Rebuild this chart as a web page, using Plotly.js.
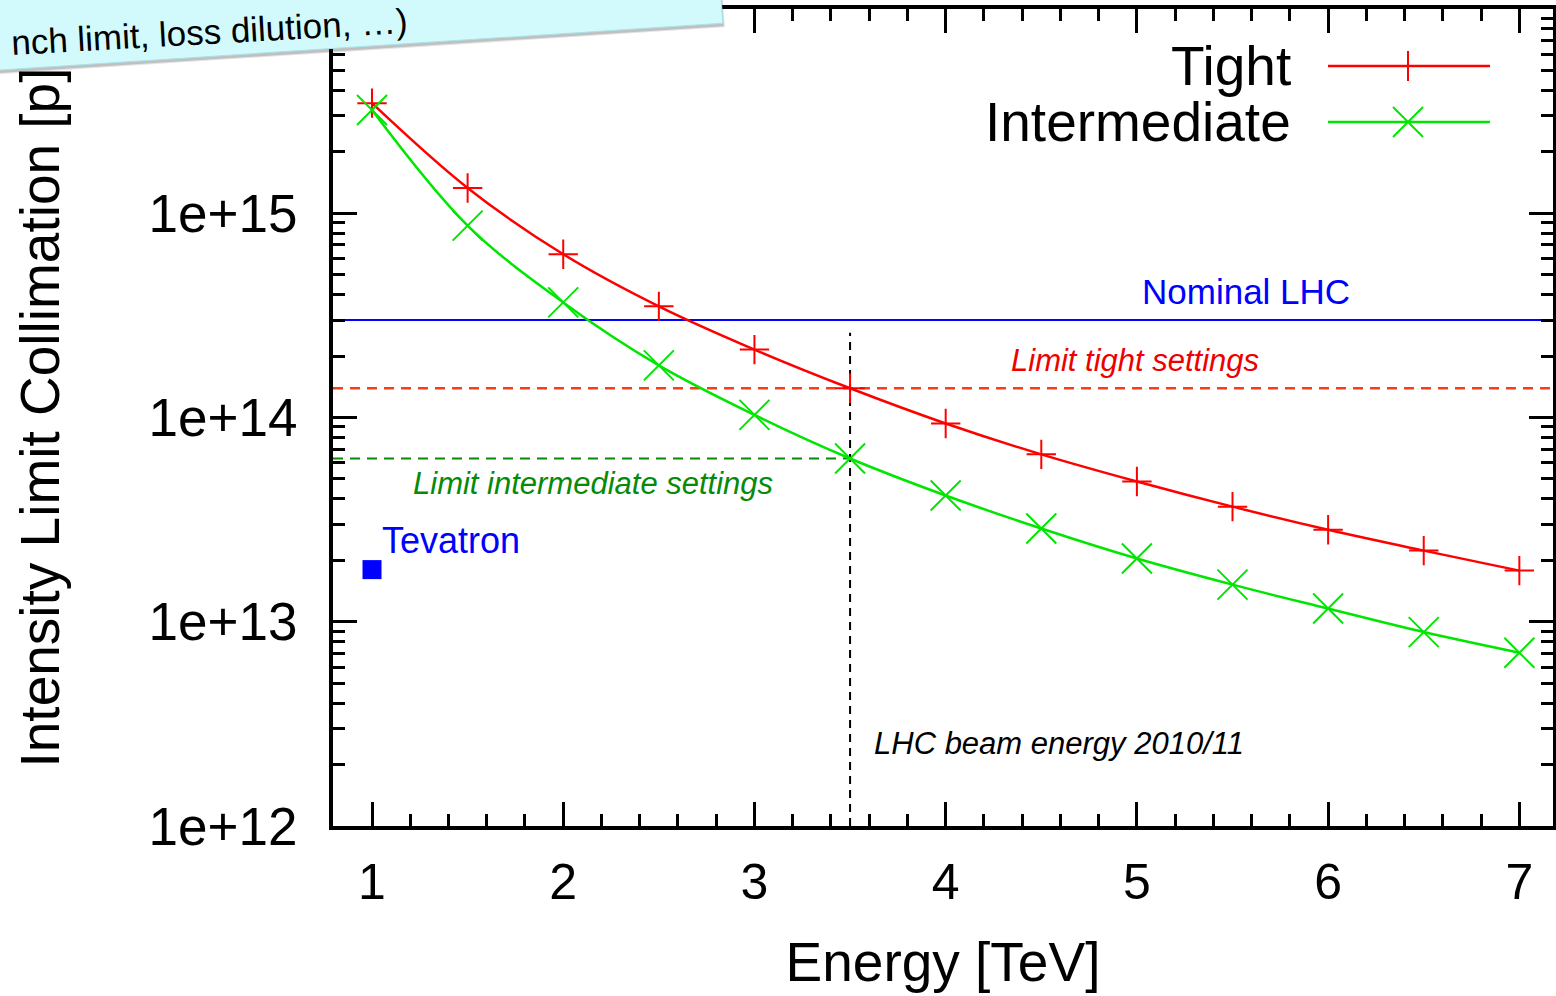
<!DOCTYPE html>
<html>
<head>
<meta charset="utf-8">
<script src="https://cdn.plot.ly/plotly-3.0.1.min.js"></script>
<style>html,body{margin:0;padding:0;background:#fff;}#chart{width:1556px;height:996px;}</style>
</head>
<body>
<div id="chart"></div>
<script>
// ---- data ----
const energy = [1, 1.5, 2, 2.5, 3, 3.5, 4, 4.5, 5, 5.5, 6, 6.5, 7];
const tightLimit = [3.46e15, 1.33e15, 6.3e14, 3.5e14, 2.15e14, 1.39e14, 9.35e13, 6.6e13, 4.86e13, 3.66e13, 2.82e13, 2.23e13, 1.78e13];
const intermediateLimit = [3.2e15, 8.7e14, 3.66e14, 1.8e14, 1.03e14, 6.3e13, 4.15e13, 2.86e13, 2.04e13, 1.52e13, 1.16e13, 8.9e12, 7.05e12];
const nominalLHC = 3.0e14;
const limitTight = 1.39e14;
const limitIntermediate = 6.3e13;
const lhcEnergy2010 = 3.5;
const lhcMarkerTop = 2.6e14;
const tevatronEnergy = [1];
const tevatronIntensity = [1.8e13];
const xTickVals = [1, 2, 3, 4, 5, 6, 7];
const yTickVals = [1e12, 1e13, 1e14, 1e15, 1e16];
const yTickText = ['1e+12', '1e+13', '1e+14', '1e+15', '1e+16'];

const xRange = [0.796, 7.176];
const yRangeLog = [12, 16];
const yMin = Math.pow(10, yRangeLog[0]);

const FONT = 'Liberation Sans, Arial, Helvetica, sans-serif';
const RED = '#ff0000', GREEN = '#00e600', BLUE = '#0000ff';

const yMinor = [];
for (let e = yRangeLog[0]; e < yRangeLog[1]; e++) {
  for (let m = 2; m <= 9; m++) yMinor.push(m * Math.pow(10, e));
}

const traces = [
  {x: xRange, y: [nominalLHC, nominalLHC], mode: 'lines', line: {color: BLUE, width: 2}, hoverinfo: 'skip'},
  {x: xRange, y: [limitTight, limitTight], mode: 'lines', line: {color: '#ff3a1a', width: 2.5, dash: '10px,7px'}, hoverinfo: 'skip'},
  {x: [xRange[0], lhcEnergy2010], y: [limitIntermediate, limitIntermediate], mode: 'lines', line: {color: '#078a07', width: 2, dash: '10px,7px'}, hoverinfo: 'skip'},
  {x: [lhcEnergy2010, lhcEnergy2010], y: [yMin, lhcMarkerTop], mode: 'lines', line: {color: '#000', width: 2, dash: '8px,6px'}, hoverinfo: 'skip'},
  {x: energy, y: tightLimit, name: 'Tight', mode: 'lines+markers',
   line: {color: RED, width: 2.5, shape: 'spline', smoothing: 1},
   marker: {symbol: 'cross-thin', size: 21, color: RED, line: {color: RED, width: 2}}},
  {x: energy, y: intermediateLimit, name: 'Intermediate', mode: 'lines+markers',
   line: {color: GREEN, width: 2.5, shape: 'spline', smoothing: 1},
   marker: {symbol: 'x-thin', size: 30, color: GREEN, line: {color: GREEN, width: 2}}},
  {x: tevatronEnergy, y: tevatronIntensity, name: 'Tevatron', mode: 'markers',
   marker: {symbol: 'square', size: 19, color: BLUE}}
];

// pixel helpers for the paper-referenced decorations (plot area 333..1553 x 9..826)
const px = v => (v - 333) / 1220;
const py = v => (826 - v) / 817;

const NOTE_ANGLE = -3.7;
const noteBox = {xref: 'paper', yref: 'paper', text: ' ', showarrow: false, width: 900, height: 130,
  textangle: NOTE_ANGLE, xanchor: 'center', yanchor: 'middle', borderpad: 0};

const annotations = [
  {xref: 'x', yref: 'y', x: 5.57, y: Math.log10(4.15e14), text: 'Nominal LHC', showarrow: false,
   xanchor: 'center', yanchor: 'middle', font: {family: FONT, size: 35, color: BLUE}},
  {xref: 'x', yref: 'y', x: 4.99, y: 14.279, text: '<i>Limit tight settings</i>', showarrow: false,
   xanchor: 'center', yanchor: 'middle', font: {family: FONT, size: 31, color: '#ee0000'}},
  {xref: 'x', yref: 'y', x: 2.156, y: 13.676, text: '<i>Limit intermediate settings</i>', showarrow: false,
   xanchor: 'center', yanchor: 'middle', font: {family: FONT, size: 31, color: '#078a07'}},
  {xref: 'x', yref: 'y', x: 3.615, y: 12.402, xanchor: 'left', yanchor: 'middle', text: '<i>LHC beam energy 2010/11</i>', showarrow: false,
   font: {family: FONT, size: 31, color: '#000'}},
  {xref: 'x', yref: 'y', x: 1.042, y: 13.397, xanchor: 'left', yanchor: 'middle', text: 'Tevatron', showarrow: false,
   font: {family: FONT, size: 36, color: BLUE}},
  // legend text
  {xref: 'paper', yref: 'paper', x: px(1293), y: py(66), xanchor: 'right', yanchor: 'middle', text: 'Tight', showarrow: false,
   font: {family: FONT, size: 55, color: '#000'}},
  {xref: 'paper', yref: 'paper', x: px(1293), y: py(122), xanchor: 'right', yanchor: 'middle', text: 'Intermediate', showarrow: false,
   font: {family: FONT, size: 55, color: '#000'}},
  // sticky note overlay (shadow, card, text)
  Object.assign({}, noteBox, {x: px(270.5), y: py(-8.5), bgcolor: 'rgba(0,0,0,0.10)'}),
  Object.assign({}, noteBox, {x: px(269.5), y: py(-10.5), bgcolor: 'rgba(0,0,0,0.16)'}),
  Object.assign({}, noteBox, {x: px(268.7), y: py(-12.9), bgcolor: '#d2fafc', bordercolor: '#a8e2e8', borderwidth: 1}),
  {xref: 'paper', yref: 'paper', x: px(209), y: py(32), xanchor: 'center', yanchor: 'middle',
   text: 'nch limit, loss dilution, …)', showarrow: false, borderpad: 0,
   textangle: -3.2, font: {family: FONT, size: 35, color: '#000'}}
];

const lx0 = px(1328), lx1 = px(1490), lxm = px(1408);
const shapes = [
  {type: 'line', xref: 'paper', yref: 'paper', x0: lx0, x1: lx1, y0: py(66), y1: py(66), line: {color: RED, width: 2.5}},
  {type: 'line', xref: 'paper', yref: 'paper', x0: lx0, x1: lx1, y0: py(122), y1: py(122), line: {color: GREEN, width: 2.5}},
  {type: 'path', xref: 'paper', yref: 'paper', xsizemode: 'pixel', ysizemode: 'pixel', xanchor: lxm, yanchor: py(66),
   path: 'M-15,0H15M0,-15V15', line: {color: RED, width: 2}},
  {type: 'path', xref: 'paper', yref: 'paper', xsizemode: 'pixel', ysizemode: 'pixel', xanchor: lxm, yanchor: py(122),
   path: 'M-15,-15L15,15M-15,15L15,-15', line: {color: GREEN, width: 2}}
];

const axisCommon = {
  showline: true, linecolor: '#000', linewidth: 4, mirror: 'ticks',
  ticks: 'inside', ticklen: 24, tickwidth: 3, tickcolor: '#000',
  showgrid: false, zeroline: false
};

const layout = {
  width: 1556, height: 996,
  margin: {l: 333, r: 3, t: 9, b: 170, pad: 0},
  paper_bgcolor: '#fff', plot_bgcolor: '#fff',
  showlegend: false,
  font: {family: FONT, color: '#000'},
  xaxis: Object.assign({}, axisCommon, {
    range: xRange, tickmode: 'array', tickvals: xTickVals,
    tickfont: {family: FONT, size: 50, color: '#000'},
    ticklabelstandoff: 9,
    minor: {dtick: 0.2, tick0: 0, ticks: 'inside', ticklen: 12, tickwidth: 3, tickcolor: '#000', showgrid: false},
    title: {text: 'Energy [TeV]', font: {family: FONT, size: 55, color: '#000'}, standoff: 34}
  }),
  yaxis: Object.assign({}, axisCommon, {
    type: 'log', range: yRangeLog, tickmode: 'array', tickvals: yTickVals, ticktext: yTickText,
    tickfont: {family: FONT, size: 53, color: '#000'},
    ticklabelstandoff: 21,
    minor: {tickmode: 'array', tickvals: yMinor, ticks: 'inside', ticklen: 12, tickwidth: 3, tickcolor: '#000', showgrid: false},
    title: {text: 'Intensity Limit Collimation [p]', font: {family: FONT, size: 55, color: '#000'}, standoff: 72}
  }),
  annotations: annotations,
  shapes: shapes
};

Plotly.newPlot('chart', traces, layout, {displayModeBar: false, staticPlot: true});
</script>
</body>
</html>
